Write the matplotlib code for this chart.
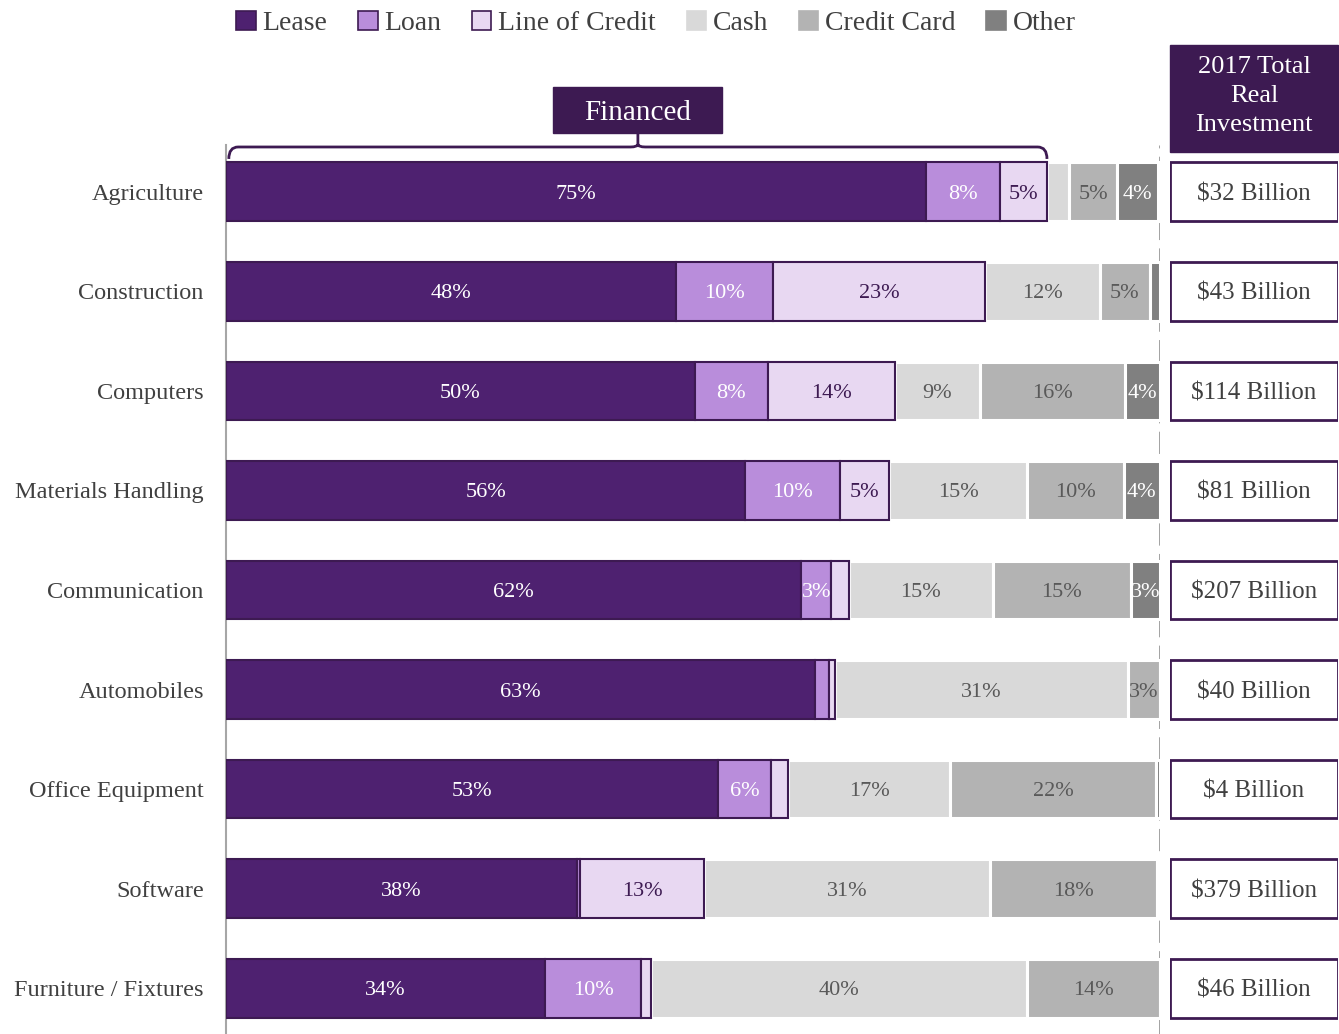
import numpy as np
import matplotlib.pyplot as plt
from matplotlib.patches import Rectangle, Patch, PathPatch
from matplotlib.path import Path

plt.rcParams['font.family'] = ['Liberation Serif', 'DejaVu Serif']

categories = ['Agriculture', 'Construction', 'Computers', 'Materials Handling',
              'Communication', 'Automobiles', 'Office Equipment', 'Software',
              'Furniture / Fixtures']
lease = [74.9, 48.2, 50.2, 55.6, 61.6, 63.1, 52.7, 37.6, 34.2]
loan = [8.0, 10.4, 7.8, 10.1, 3.2, 1.5, 5.6, 0.3, 10.2]
line_of_credit = [5.0, 22.7, 13.6, 5.3, 1.9, 0.6, 1.9, 13.3, 1.1]
cash = [2.4, 12.3, 9.1, 14.8, 15.4, 31.4, 17.3, 30.6, 40.3]
credit_card = [5.1, 5.3, 15.6, 10.3, 14.8, 3.4, 22.1, 17.9, 14.2]
other = [4.4, 1.1, 3.7, 3.9, 3.1, 0, 0.4, 0.3, 0]
investment = ['$32 Billion', '$43 Billion', '$114 Billion', '$81 Billion',
              '$207 Billion', '$40 Billion', '$4 Billion', '$379 Billion',
              '$46 Billion']

names = ['Lease', 'Loan', 'Line of Credit', 'Cash', 'Credit Card', 'Other']
series = [lease, loan, line_of_credit, cash, credit_card, other]
colors = ['#4e2170', '#b98ddb', '#e8d8f2', '#d9d9d9', '#b3b3b3', '#808080']
label_colors = ['white', 'white', '#3d1a52', '#595959', '#595959', 'white']
dark = '#3d1a52'
txt = '#404040'

W, H = 1339, 1034
def fx(px):
    return px / W
def fy(py):
    return 1 - py / H

fig = plt.figure(figsize=(W / 100, H / 100), dpi=100)
ax = fig.add_axes([fx(226), fy(1034), fx(1160) - fx(226), (1034 - 145) / H])

y = np.arange(len(categories))
left = np.zeros(len(categories))
bh = 0.59
for k, vals in enumerate(series):
    vals = np.array(vals, dtype=float)
    financed = k < 3
    ax.barh(y, vals, left=left, height=bh, color=colors[k],
            edgecolor=dark if financed else 'white',
            linewidth=1.5 if financed else 2.2,
            zorder=4 if financed else 3)
    for i, v in enumerate(vals):
        if v >= 3:
            ax.text(left[i] + v / 2, y[i], f'{int(round(v))}%', ha='center',
                    va='center_baseline', color=label_colors[k], fontsize=16, zorder=5)
    left += vals

ax.set_xlim(0, 100)
ax.set_ylim(8.46, -0.47)
ax.axvline(100, color='#999999', lw=2, ls=(0, (8, 3)), zorder=1)
ax.set_yticks(y)
ax.set_yticklabels(categories, fontsize=17.5, color=txt, va='center_baseline')
ax.tick_params(axis='y', length=0, pad=16)
ax.set_xticks([])
for s in ['top', 'right', 'bottom']:
    ax.spines[s].set_visible(False)
ax.spines['left'].set_color('#a6a6a6')
ax.spines['left'].set_linewidth(1.5)

# bracket over financed part
x0, x1 = 0.3, lease[0] + loan[0] + line_of_credit[0]
xm = (x0 + x1) / 2
yb, ye, yt = -0.45, -0.33, -0.59
verts = [(x0, ye), (x0, yb), (x0 + 1, yb), (xm - 0.8, yb), (xm, yb), (xm, yb - 0.03),
         (xm, yt), (xm, yb - 0.03), (xm, yb), (xm + 0.8, yb), (x1 - 1, yb),
         (x1, yb), (x1, ye)]
codes = [Path.MOVETO, Path.CURVE3, Path.CURVE3, Path.LINETO, Path.CURVE3, Path.CURVE3,
         Path.LINETO, Path.MOVETO, Path.CURVE3, Path.CURVE3, Path.LINETO,
         Path.CURVE3, Path.CURVE3]
ax.add_patch(PathPatch(Path(verts, codes), fill=False, edgecolor=dark, lw=2,
                       clip_on=False, zorder=6))

fig.patches.append(Rectangle((fx(553), fy(133)), fx(722) - fx(553), (133 - 87) / H,
                             transform=fig.transFigure, color=dark))
fig.text(fx(638), fy(110), 'Financed', ha='center', va='center_baseline',
         color='white', fontsize=21)

# right column
ax2 = fig.add_axes([fx(1170), fy(1034), fx(1338) - fx(1170), (1034 - 145) / H])
ax2.barh(y, [1] * len(y), height=bh, color='white', edgecolor=dark, lw=2)
for i, s in enumerate(investment):
    ax2.text(0.5, y[i], s, ha='center', va='center_baseline', fontsize=18, color=txt)
ax2.set_xlim(0, 1)
ax2.set_ylim(8.46, -0.47)
ax2.axis('off')

fig.patches.append(Rectangle((fx(1170), fy(152)), fx(1338) - fx(1170), (152 - 45) / H,
                             transform=fig.transFigure, color=dark))
fig.text(fx(1254), fy(96), '2017 Total\nReal\nInvestment', ha='center', va='center',
         color='white', fontsize=19, linespacing=1.42)

handles = [Patch(facecolor=colors[k], edgecolor=dark if k < 3 else colors[k],
                 lw=1.2, label=names[k]) for k in range(6)]
leg = fig.legend(handles=handles, loc='upper center', bbox_to_anchor=(fx(656), fy(11)),
                 ncol=6, frameon=False, fontsize=20, handlelength=0.7, handleheight=0.7,
                 columnspacing=1.1, handletextpad=0.25, borderpad=0, borderaxespad=0)
for t in leg.get_texts():
    t.set_color(txt)

fig.savefig('out.png', dpi=100)
